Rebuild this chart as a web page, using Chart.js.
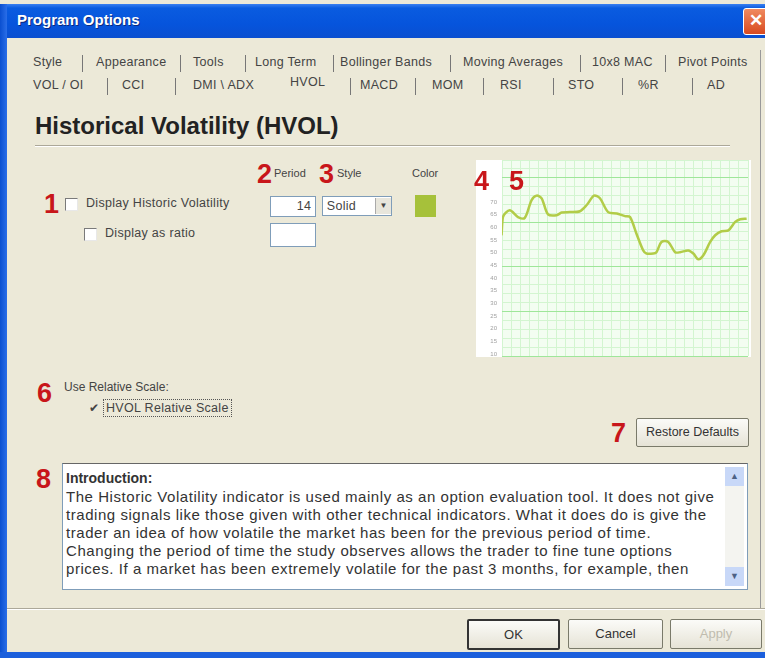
<!DOCTYPE html>
<html>
<head>
<meta charset="utf-8">
<script src="https://cdn.jsdelivr.net/npm/chart.js@4.4.1/dist/chart.umd.min.js"></script>
<style>
  html, body { margin: 0; padding: 0; }
  body { width: 765px; height: 658px; position: relative; overflow: hidden; background: #ece9d8;
         font-family: "Liberation Sans", Arial, sans-serif; color: #222; }
  .abs { position: absolute; white-space: nowrap; }
  .titlebar { left: 0; top: 4px; width: 765px; height: 34px;
              background: linear-gradient(#3a80f0 0%, #0a5ce0 12%, #0654dc 60%, #0a4fd0 100%); }
  .title { left: 17px; top: 11px; font-size: 15px; font-weight: bold; color: #fff; text-shadow: 1px 1px 0 #0a2a80; }
  .close { left: 743px; top: 8px; width: 24px; height: 25px; background: linear-gradient(#f08a60, #d84a20);
           border: 1px solid #fff; border-radius: 3px; color: #fff; font-weight: bold; font-size: 17px;
           text-align: center; line-height: 24px; }
  .leftborder { left: 0; top: 4px; width: 7px; height: 654px; background: linear-gradient(90deg, #0a4fd0, #2a6ee8); }
  .bottomborder { left: 0; top: 652px; width: 765px; height: 6px; background: #1b5fdc; }
  .tab { font-size: 12.5px; letter-spacing: 0.3px; color: #444; }
  .sep { width: 1px; height: 17px; background: #777; }
  .heading { left: 35px; top: 112px; font-size: 24px; font-weight: bold; color: #222; }
  .hr { left: 35px; top: 145px; width: 695px; height: 1px; background: #aca899; border-bottom: 1px solid #fff; }
  .red { font-size: 27px; font-weight: bold; color: #c8161a; line-height: 1; }
  .lbl { font-size: 12.5px; letter-spacing: 0.3px; color: #444; }
  .small { font-size: 11px; letter-spacing: 0; }
  .cb { width: 11px; height: 11px; background: #fff; border: 1px solid #7a7a7a; border-right-color: #e8e8e8; border-bottom-color: #e8e8e8; }
  .box { background: #fff; border: 1px solid #7f9db9; }
  .panelline { left: 760px; top: 50px; width: 1px; height: 558px; background: #999; }
  .btn { background: linear-gradient(#fbfbf8, #e6e3d6); border: 1px solid #7a7a6a; border-radius: 2px;
         font-size: 13px; text-align: center; color: #333; }
  .text { left: 66px; font-size: 15px; letter-spacing: 0.55px; color: #333; }
</style>
</head>
<body>
<div class="abs titlebar"></div>
<div class="abs title">Program Options</div>
<div class="abs close">✕</div>
<div class="abs leftborder"></div>

<!-- tabs, row 1 -->
<div class="abs tab" style="left:33px;top:55px">Style</div>
<div class="abs sep" style="left:82px;top:55px"></div>
<div class="abs tab" style="left:96px;top:55px">Appearance</div>
<div class="abs sep" style="left:180px;top:55px"></div>
<div class="abs tab" style="left:193px;top:55px">Tools</div>
<div class="abs sep" style="left:245px;top:55px"></div>
<div class="abs tab" style="left:255px;top:55px">Long Term</div>
<div class="abs sep" style="left:333px;top:55px"></div>
<div class="abs tab" style="left:340px;top:55px">Bollinger Bands</div>
<div class="abs sep" style="left:450px;top:55px"></div>
<div class="abs tab" style="left:463px;top:55px">Moving Averages</div>
<div class="abs sep" style="left:580px;top:55px"></div>
<div class="abs tab" style="left:592px;top:55px">10x8 MAC</div>
<div class="abs sep" style="left:665px;top:55px"></div>
<div class="abs tab" style="left:678px;top:55px">Pivot Points</div>
<!-- tabs, row 2 -->
<div class="abs tab" style="left:33px;top:78px">VOL / OI</div>
<div class="abs sep" style="left:107px;top:78px"></div>
<div class="abs tab" style="left:122px;top:78px">CCI</div>
<div class="abs sep" style="left:175px;top:78px"></div>
<div class="abs tab" style="left:193px;top:78px">DMI \ ADX</div>
<div class="abs tab" style="left:290px;top:75px">HVOL</div>
<div class="abs sep" style="left:350px;top:78px"></div>
<div class="abs tab" style="left:360px;top:78px">MACD</div>
<div class="abs sep" style="left:415px;top:78px"></div>
<div class="abs tab" style="left:432px;top:78px">MOM</div>
<div class="abs sep" style="left:483px;top:78px"></div>
<div class="abs tab" style="left:500px;top:78px">RSI</div>
<div class="abs sep" style="left:553px;top:78px"></div>
<div class="abs tab" style="left:568px;top:78px">STO</div>
<div class="abs sep" style="left:622px;top:78px"></div>
<div class="abs tab" style="left:638px;top:78px">%R</div>
<div class="abs sep" style="left:692px;top:78px"></div>
<div class="abs tab" style="left:707px;top:78px">AD</div>
<div class="abs panelline"></div>

<div class="abs heading">Historical Volatility (HVOL)</div>
<div class="abs hr"></div>

<div class="abs red" style="left:44px;top:191px">1</div>
<div class="abs cb" style="left:65px;top:198px"></div>
<div class="abs lbl" style="left:86px;top:196px">Display Historic Volatility</div>
<div class="abs cb" style="left:84px;top:228px"></div>
<div class="abs lbl" style="left:105px;top:226px">Display as ratio</div>

<div class="abs red" style="left:257px;top:161px">2</div>
<div class="abs lbl small" style="left:274px;top:167px">Period</div>
<div class="abs red" style="left:319px;top:161px">3</div>
<div class="abs lbl small" style="left:337px;top:167px">Style</div>
<div class="abs lbl small" style="left:412px;top:167px">Color</div>
<div class="abs box lbl" style="left:270px;top:196px;width:44px;height:19px;text-align:right;line-height:19px">14&nbsp;</div>
<div class="abs box lbl" style="left:322px;top:196px;width:68px;height:18px;line-height:18px">&nbsp;Solid
  <div class="abs" style="left:52px;top:1px;width:15px;height:16px;background:#e8e6dc;border-left:1px solid #aaa;text-align:center;font-size:8px;line-height:16px;letter-spacing:0">▼</div>
</div>
<div class="abs box" style="left:270px;top:223px;width:44px;height:22px"></div>
<div class="abs" style="left:415px;top:195px;width:21px;height:22px;background:#a6c13a"></div>

<canvas id="hvolChart" class="abs" width="275" height="197" style="left:476px;top:160px"></canvas>
<div class="abs red" style="left:474px;top:168px">4</div>
<div class="abs red" style="left:509px;top:168px">5</div>

<div class="abs red" style="left:37px;top:380px">6</div>
<div class="abs lbl" style="left:64px;top:380px;font-size:12px;letter-spacing:0">Use Relative Scale:</div>
<div class="abs lbl" style="left:89px;top:401px;font-size:12px">✔</div>
<div class="abs lbl" style="left:103px;top:399px;padding:1px 2px;border:1px dotted #555">HVOL Relative Scale</div>

<div class="abs red" style="left:611px;top:420px">7</div>
<div class="abs btn" style="left:636px;top:418px;width:111px;height:27px;line-height:27px;font-size:12.5px">Restore Defaults</div>

<div class="abs red" style="left:36px;top:466px">8</div>
<div class="abs" style="left:62px;top:463px;width:684px;height:125px;background:#fff;border:1px solid #7f9db9;border-top-color:#666"></div>
<div class="abs" style="left:725px;top:467px;width:19px;height:119px;background:#f4f4f0"></div>
<div class="abs" style="left:725px;top:467px;width:19px;height:19px;background:#c8d8f8;color:#4d6185;font-size:9px;text-align:center;line-height:19px">▲</div>
<div class="abs" style="left:725px;top:567px;width:19px;height:19px;background:#c8d8f8;color:#4d6185;font-size:9px;text-align:center;line-height:19px">▼</div>
<div class="abs text" style="top:470px;font-weight:bold;font-size:14px;letter-spacing:0">Introduction:</div>
<div class="abs text" style="top:488px">The Historic Volatility indicator is used mainly as an option evaluation tool. It does not give</div>
<div class="abs text" style="top:506px">trading signals like those given with other technical indicators. What it does do is give the</div>
<div class="abs text" style="top:524px">trader an idea of how volatile the market has been for the previous period of time.</div>
<div class="abs text" style="top:542px">Changing the period of time the study observes allows the trader to fine tune options</div>
<div class="abs text" style="top:560px">prices. If a market has been extremely volatile for the past 3 months, for example, then</div>

<div class="abs" style="left:7px;top:608px;width:758px;height:1px;background:#aca899;border-bottom:1px solid #fff"></div>
<div class="abs btn" style="left:467px;top:619px;width:89px;height:27px;line-height:27px;border:2px solid #333">OK</div>
<div class="abs btn" style="left:568px;top:619px;width:93px;height:28px;line-height:28px">Cancel</div>
<div class="abs btn" style="left:670px;top:619px;width:90px;height:28px;line-height:28px;color:#c0bcae">Apply</div>
<div class="abs bottomborder"></div>

<script>
// x position of each sample on the grid (major grid every 10)
const xValues = [-5.1, -4.8, -3.3, -1.5, 0, 1.5, 2.6, 3.7, 5.1, 7.0, 8.1, 9.9, 12.1, 13.6, 15.2, 16.5,
  18.3, 20.2, 22.0, 23.1, 24.5, 26.0, 26.7, 28.2, 28.9, 30.0, 31.5, 33.0, 34.1, 35.9, 37.0, 38.1,
  39.2, 40.7, 41.8, 43.2, 44.7, 46.2, 47.3, 48.7];
// historical volatility values
const hvolValues = [27.1, 31.2, 32.7, 31.2, 31.0, 35.0, 36.0, 35.4, 31.8, 31.6, 32.2, 32.3, 32.5, 33.9,
  36.0, 35.4, 32.3, 32.0, 31.4, 31.2, 27.5, 23.7, 23.0, 23.0, 23.3, 25.6, 25.6, 23.3, 23.3, 23.7,
  23.0, 21.7, 22.6, 25.6, 27.1, 28.0, 28.2, 30.1, 30.7, 30.8];
// labels on the left scale, bottom to top
const yTickLabels = ["10", "15", "20", "25", "30", "35", "40", "45", "50", "55", "60", "65", "70"];

const majorGrid = "#9fe69a";
const minorGrid = "#d3f5d0";

const gridColor = (ctx) =>
  ctx.tick && ctx.tick.value % 10 === 0 ? majorGrid : minorGrid;

const plotBackground = {
  id: "plotBackground",
  beforeDraw(chart) {
    const { ctx, chartArea } = chart;
    ctx.save();
    ctx.fillStyle = "#ffffff";
    ctx.fillRect(0, 0, chart.width, chart.height);
    ctx.fillStyle = "#f3fdf1";
    ctx.fillRect(chartArea.left, chartArea.top, chartArea.width, chartArea.height);
    ctx.restore();
  },
};

Chart.defaults.font.family = '"Liberation Sans", Arial, sans-serif';

new Chart(document.getElementById("hvolChart"), {
  type: "line",
  data: {
    datasets: [
      {
        data: xValues.map((x, i) => ({ x, y: hvolValues[i] })),
        borderColor: "#b2cc48",
        borderWidth: 2.5,
        pointRadius: 0,
        tension: 0.3,
      },
    ],
  },
  plugins: [plotBackground],
  options: {
    responsive: false,
    animation: false,
    layout: { padding: { top: 0, bottom: 1, right: 3 } },
    plugins: { legend: { display: false }, tooltip: { enabled: false } },
    scales: {
      x: {
        type: "linear",
        min: -5,
        max: 49,
        ticks: { display: false, stepSize: 2 },
        grid: { color: gridColor, drawTicks: false },
        border: { display: false },
        afterFit: (axis) => { axis.height = 0; },
      },
      y: {
        min: 0,
        max: 44,
        ticks: { display: false, stepSize: 2 },
        grid: { color: gridColor, drawTicks: false },
        border: { display: false },
        afterFit: (axis) => { axis.width = 0; },
      },
      labels: {
        position: "left",
        min: -0.16,
        max: 15.32,
        afterBuildTicks: (axis) => {
          axis.ticks = yTickLabels.map((l, i) => ({ value: i }));
        },
        ticks: {
          color: "#a0a0a0",
          font: { size: 6 },
          padding: 5,
          callback: (v, i) => yTickLabels[i],
        },
        grid: { display: false, drawTicks: false },
        border: { display: false },
        afterFit: (axis) => {
          axis.width = 26;
          axis.paddingTop = 0;
          axis.paddingBottom = 0;
        },
      },
    },
  },
});
</script>
</body>
</html>
